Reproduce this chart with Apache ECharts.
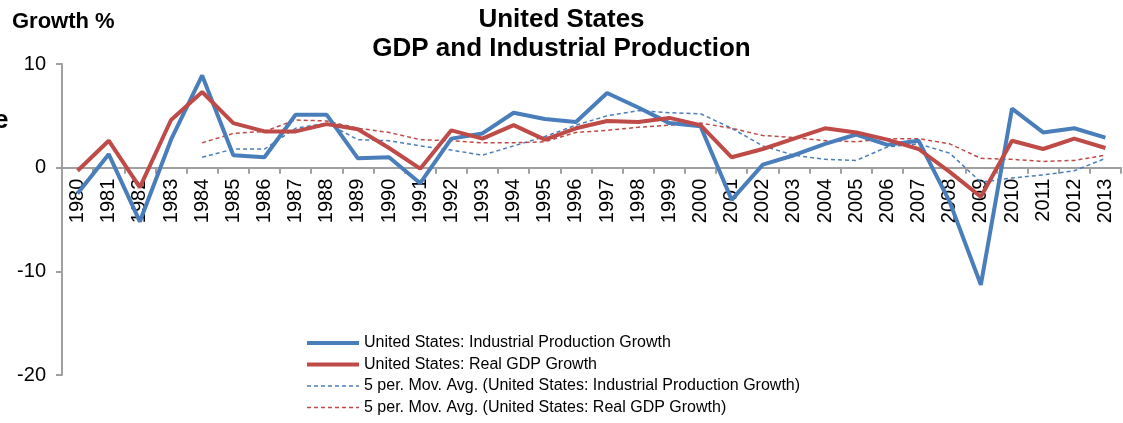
<!DOCTYPE html>
<html lang="en">
	<head>
		<meta charset="UTF-8" />
		<title>United States GDP and Industrial Production</title>
		<style>
			html, body { margin: 0; padding: 0; background: #fff; }
			#chart { width: 1123px; height: 423px; }
		</style>
	</head>
	<body>
		<div id="chart"></div>
		<script src="https://cdn.jsdelivr.net/npm/echarts@6/dist/echarts.min.js"></script>
		<script>
			// years on the category axis
			let years = [
				"1980", "1981", "1982", "1983", "1984", "1985", "1986", "1987", "1988", "1989",
				"1990", "1991", "1992", "1993", "1994", "1995", "1996", "1997", "1998", "1999",
				"2000", "2001", "2002", "2003", "2004", "2005", "2006", "2007", "2008", "2009",
				"2010", "2011", "2012", "2013"
			];
			// growth %
			let ipGrowth = [
				-2.5, 1.3, -5.2, 2.7, 8.9, 1.2, 1.0, 5.1, 5.1, 0.9,
				1.0, -1.5, 2.8, 3.3, 5.3, 4.7, 4.4, 7.2, 5.8, 4.3,
				4.0, -3.1, 0.3, 1.2, 2.3, 3.2, 2.2, 2.6, -3.3, -11.3,
				5.7, 3.4, 3.8, 2.9
			];
			let gdpGrowth = [
				-0.3, 2.6, -1.9, 4.6, 7.3, 4.3, 3.5, 3.5, 4.2, 3.7,
				1.9, -0.1, 3.6, 2.8, 4.1, 2.7, 3.8, 4.5, 4.4, 4.8,
				4.1, 1.0, 1.8, 2.8, 3.8, 3.4, 2.7, 1.8, -0.4, -2.8,
				2.6, 1.8, 2.8, 1.9
			];
			let ipAvg = [
				null, null, null, null, 1.0, 1.8, 1.8, 3.8, 4.3, 2.7,
				2.6, 2.1, 1.7, 1.2, 2.1, 3.0, 4.1, 5.0, 5.5, 5.3,
				5.2, 3.8, 2.1, 1.2, 0.8, 0.7, 2.0, 2.3, 1.4, -1.4,
				-1.0, -0.7, -0.3, 0.9
			];
			let gdpAvg = [
				null, null, null, null, 2.4, 3.3, 3.5, 4.6, 4.5, 3.8,
				3.4, 2.7, 2.6, 2.4, 2.4, 2.5, 3.4, 3.6, 3.9, 4.1,
				4.3, 3.8, 3.1, 2.9, 2.6, 2.5, 2.8, 2.8, 2.3, 0.9,
				0.8, 0.6, 0.7, 1.2
			];
			let seriesNames = [
				"United States: Industrial Production Growth",
				"United States: Real GDP Growth",
				"5 per. Mov. Avg. (United States: Industrial Production Growth)",
				"5 per. Mov. Avg. (United States: Real GDP Growth)"
			];

			let blue = "#4a7ebb";
			let red = "#be4b48";
			let font = "Liberation Sans, Arial, sans-serif";

			// grid box: top 64, bottom 48 -> zero sits 1/3 of the way down
			let gridTop = 64;
			let gridBottom = 48;
			let gridHeight = 423 - gridTop - gridBottom;
			let zeroOffset = gridHeight * (20 / 30);

			let legendItems = seriesNames.map(function (name, i) {
				return {
					name: name,
					itemStyle: { opacity: 0 },
					lineStyle: { width: i < 2 ? 4 : 1.5, type: i < 2 ? "solid" : [4, 3] },
				};
			});

			let chart = echarts.init(document.getElementById("chart"));
			let option = {
				animation: false,
				textStyle: { fontFamily: font },
				title: {
					text: "United States\nGDP and Industrial Production",
					left: "center",
					top: 0,
					textStyle: {
						fontSize: 26,
						fontWeight: "bold",
						color: "#000",
						lineHeight: 29,
						fontFamily: font,
					},
				},
				graphic: [
					{
						type: "text",
						left: 12,
						top: 11,
						style: {
							text: "Growth %",
							font: "bold 22px " + font,
							fill: "#000",
						},
					},
					{
						type: "text",
						left: -6,
						top: 108,
						style: {
							text: "e",
							font: "bold 26px " + font,
							fill: "#000",
						},
					},
				],
				legend: {
					orient: "vertical",
					left: 305,
					top: 335,
					height: 88,
					padding: 0,
					itemWidth: 52,
					itemHeight: 14,
					itemGap: 5.5,
					textStyle: { fontSize: 16, color: "#000", fontFamily: font },
					data: legendItems,
				},
				grid: {
					left: 62,
					right: 2,
					top: gridTop,
					bottom: gridBottom,
				},
				xAxis: {
					type: "category",
					data: years,
					boundaryGap: true,
					offset: -zeroOffset,
					axisLine: {
						onZero: false,
						lineStyle: { color: "#a0a0a0", width: 2 },
					},
					axisTick: {
						show: true,
						length: 6,
						lineStyle: { color: "#a0a0a0", width: 2 },
					},
					axisLabel: {
						rotate: 90,
						interval: 0,
						fontSize: 20,
						color: "#000",
						margin: 11,
					},
				},
				yAxis: {
					type: "value",
					min: -20,
					max: 10,
					interval: 10,
					splitLine: { show: false },
					axisLine: {
						show: true,
						lineStyle: { color: "#a0a0a0", width: 2 },
					},
					axisTick: {
						show: true,
						length: 6,
						lineStyle: { color: "#a0a0a0", width: 2 },
					},
					axisLabel: { fontSize: 20, color: "#000", margin: 16 },
				},
				series: [
					{
						name: seriesNames[0],
						type: "line",
						data: ipGrowth,
						symbol: "none",
						z: 3,
						itemStyle: { color: blue },
						lineStyle: { color: blue, width: 4 },
					},
					{
						name: seriesNames[1],
						type: "line",
						data: gdpGrowth,
						symbol: "none",
						z: 4,
						itemStyle: { color: red },
						lineStyle: { color: red, width: 4 },
					},
					{
						name: seriesNames[2],
						type: "line",
						data: ipAvg,
						symbol: "none",
						z: 2,
						itemStyle: { color: blue },
						lineStyle: { color: blue, width: 1.5, type: [4, 3] },
					},
					{
						name: seriesNames[3],
						type: "line",
						data: gdpAvg,
						symbol: "none",
						z: 2,
						itemStyle: { color: red },
						lineStyle: { color: red, width: 1.5, type: [4, 3] },
					},
				],
			};
			chart.setOption(option);
		</script>
	</body>
</html>
